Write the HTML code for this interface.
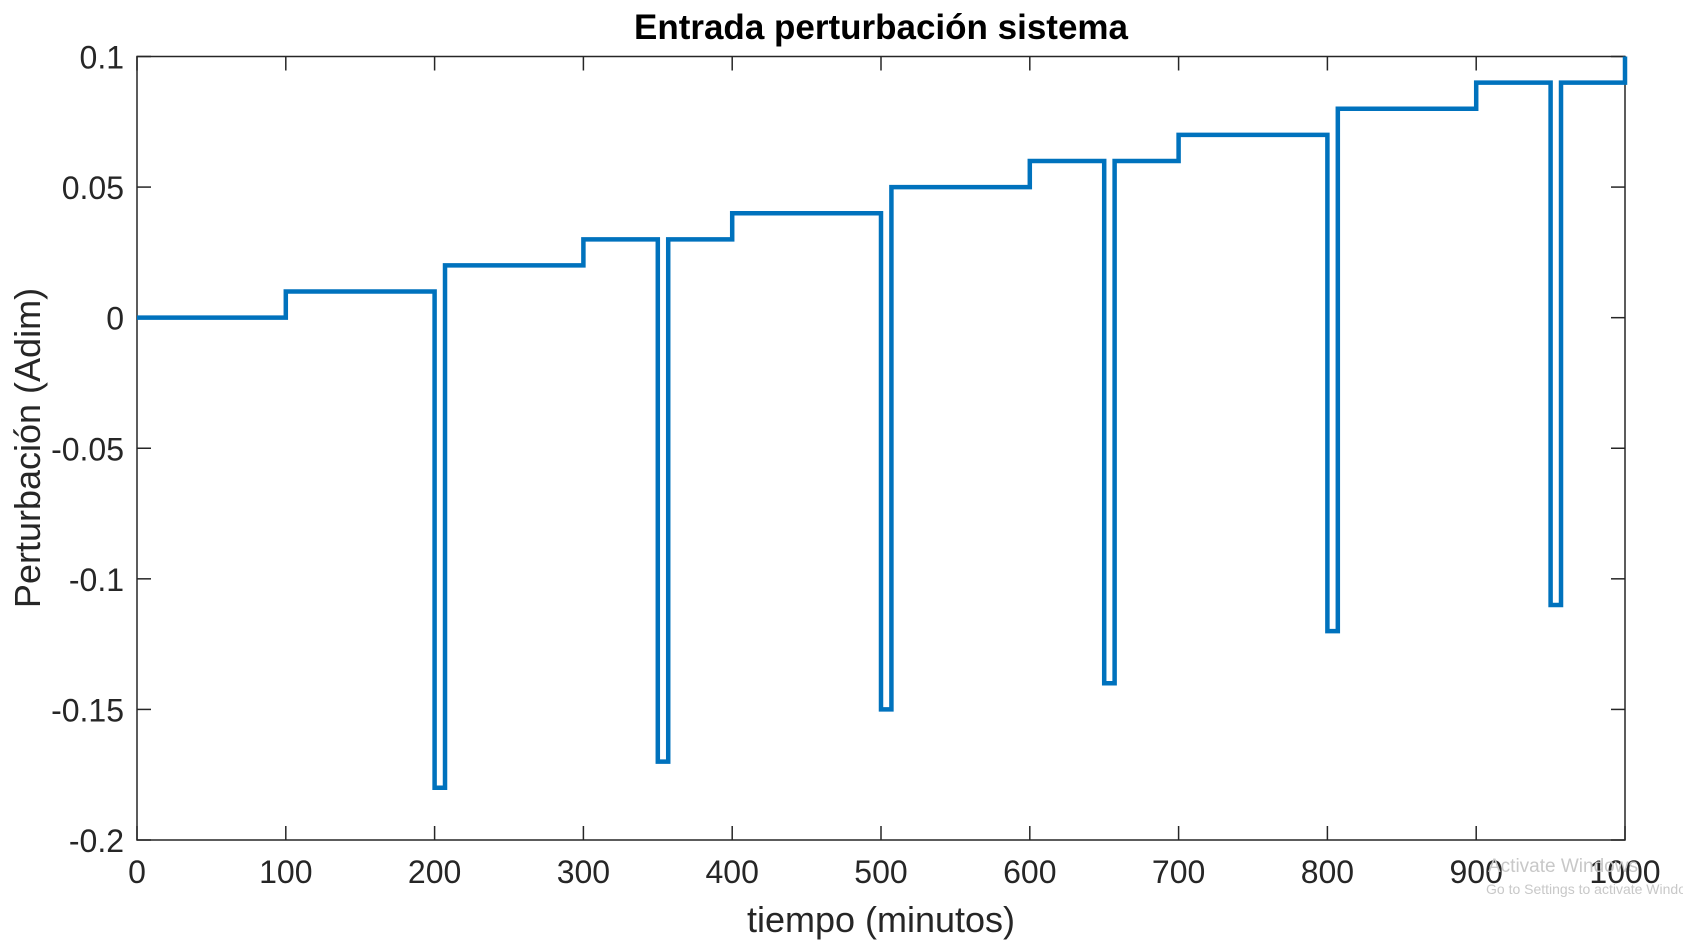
<!DOCTYPE html>
<html><head><meta charset="utf-8"><style>
body{margin:0;background:#fff;width:1683px;height:941px;overflow:hidden;font-family:"Liberation Sans",Arial,sans-serif}
</style></head><body>
<svg id="chart" width="1683" height="941" xmlns="http://www.w3.org/2000/svg">
<rect width="1683" height="941" fill="#fff"/>
<text x="881" y="39" text-anchor="middle" font-size="35" font-weight="bold" fill="#000">Entrada perturbación sistema</text>
<g id="axes"></g>
<text x="881" y="932" text-anchor="middle" font-size="36" fill="#262626">tiempo (minutos)</text>
<text transform="translate(40,448) rotate(-90)" text-anchor="middle" font-size="36" fill="#262626">Perturbación (Adim)</text>
<text x="1488" y="872" font-size="19" fill="#c8c8c8">Activate Windows</text>
<text x="1486" y="894" font-size="14" fill="#c8c8c8">Go to Settings to activate Windows.</text>
</svg>
<script>
const stepTimes=[0,100,200,207,300,350,357,400,500,507,600,650,657,700,800,807,900,950,957,1000,1000];
const stepValues=[0,0.01,-0.18,0.02,0.03,-0.17,0.03,0.04,-0.15,0.05,0.06,-0.14,0.06,0.07,-0.12,0.08,0.09,-0.11,0.09,0.09,0.1];
const xTicks=[0,100,200,300,400,500,600,700,800,900,1000];
const yTicks=[-0.2,-0.15,-0.1,-0.05,0,0.05,0.1];
const yTickLabels=["-0.2","-0.15","-0.1","-0.05","0","0.05","0.1"];
const L=137,R=1625,T=56.5,B=840;
const xs=v=>L+(v-0)/(1000)*(R-L);
const ys=v=>B-(v+0.2)/0.3*(B-T);
const NS="http://www.w3.org/2000/svg";
const g=document.getElementById('axes');
function mk(t,a){const e=document.createElementNS(NS,t);for(const k in a)e.setAttribute(k,a[k]);g.appendChild(e);return e;}
const box=mk('rect',{x:L,y:T,width:R-L,height:B-T,fill:'none',stroke:'#262626','stroke-width':1.5});


xTicks.forEach(v=>{const x=xs(v);
 mk('line',{x1:x,x2:x,y1:B,y2:B-14,stroke:'#262626','stroke-width':1.5});
 mk('line',{x1:x,x2:x,y1:T,y2:T+14,stroke:'#262626','stroke-width':1.5});
 const t=mk('text',{x:x,y:B+43,'text-anchor':'middle','font-size':32,fill:'#262626'});t.textContent=v;
 
 
});
yTicks.forEach((v,i)=>{const y=ys(v);
 mk('line',{x1:L,x2:L+14,y1:y,y2:y,stroke:'#262626','stroke-width':1.5});
 mk('line',{x1:R,x2:R-14,y1:y,y2:y,stroke:'#262626','stroke-width':1.5});
 const t=mk('text',{x:L-13,y:y+12,'text-anchor':'end','font-size':32,fill:'#262626'});t.textContent=yTickLabels[i];
 
 
});
let d='';
for(let i=0;i<stepTimes.length;i++){
 const x=xs(stepTimes[i]),y=ys(stepValues[i]);
 if(i===0)d+=`M${x},${y}`;else d+=`L${x},${ys(stepValues[i-1])}L${x},${y}`;
}
const p=mk('path',{d:d,fill:'none',stroke:'#0072BD','stroke-width':4.5,'stroke-linejoin':'miter'});


</script>
</body></html>
